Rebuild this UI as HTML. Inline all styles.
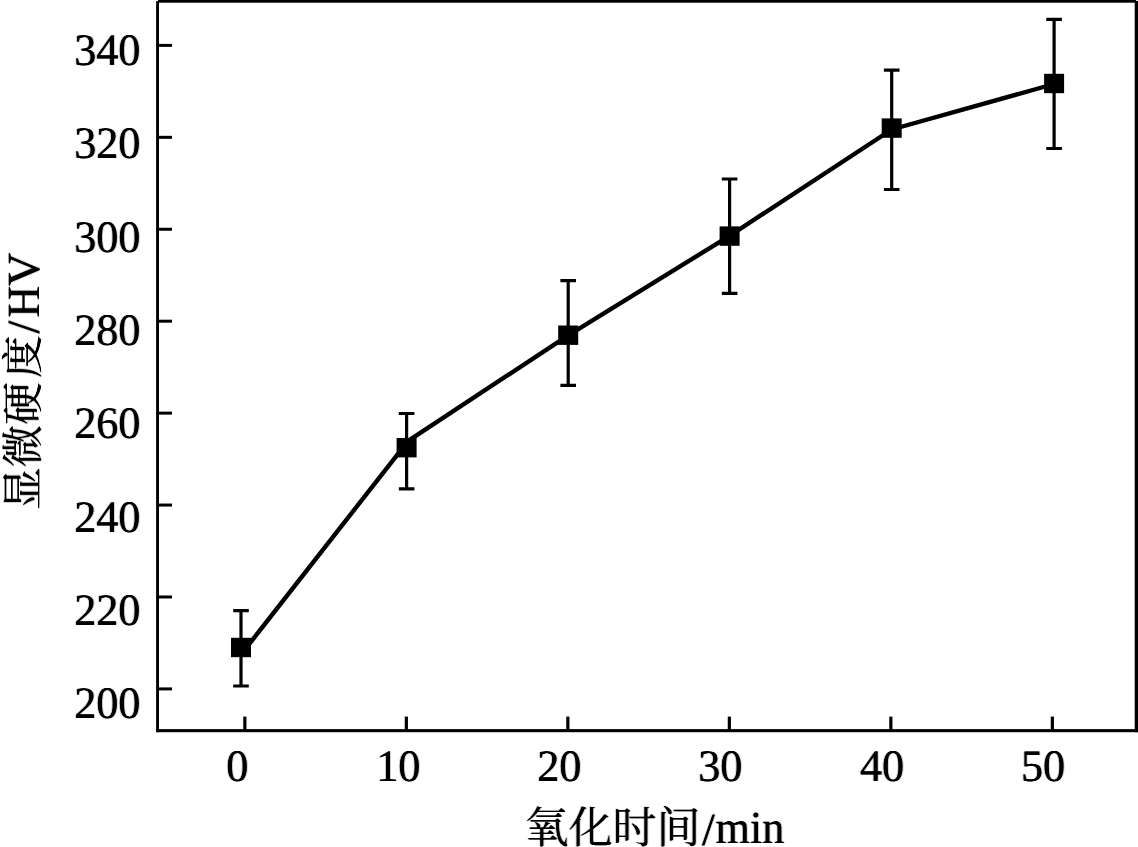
<!DOCTYPE html>
<html lang="zh-CN">
<head>
<meta charset="utf-8">
<title>氧化时间与显微硬度</title>
<style>
html,body{margin:0;padding:0;background:#fff;}
body{width:1138px;height:847px;overflow:hidden;position:relative;}
svg{position:absolute;left:0;top:0;display:block;}
text{font-family:"Liberation Serif","Noto Serif CJK SC",serif;font-size:45px;letter-spacing:-0.2px;text-rendering:geometricPrecision;fill:#000;stroke:#000;stroke-width:0.1px;filter:url(#emb);}
.cx{font-family:"Noto Serif CJK SC","Liberation Serif",serif;font-size:44px;font-weight:400;stroke-width:0;letter-spacing:0;}
.cy{font-family:"Noto Serif CJK SC","Liberation Serif",serif;font-size:42.6px;font-weight:400;stroke-width:0;letter-spacing:0;}
.lat{font-size:46px;letter-spacing:0;}
</style>
</head>
<body>
<svg width="1138" height="847" viewBox="0 0 1138 847">
<defs><filter id="emb" x="-10%" y="-10%" width="120%" height="120%" color-interpolation-filters="sRGB"><feConvolveMatrix order="3 1" kernelMatrix="0.22 1 0.22" divisor="1" edgeMode="none" preserveAlpha="false"/></filter></defs>
<rect x="0" y="0" width="1138" height="847" fill="#fff"/>

<g fill="#000" stroke="none">
<rect x="156.1" y="1.1" width="2.9" height="731.1"/>
<rect x="156.2" y="729.1" width="981.8" height="3.1"/>
<rect x="158" y="0" width="978" height="2.7"/>
<rect x="1134.7" y="0.9" width="3.3" height="731.3"/>
<rect x="158" y="43.90" width="14" height="3"/>
<rect x="158" y="135.83" width="14" height="3"/>
<rect x="158" y="227.76" width="14" height="3"/>
<rect x="158" y="319.69" width="14" height="3"/>
<rect x="158" y="411.62" width="14" height="3"/>
<rect x="158" y="503.55" width="14" height="3"/>
<rect x="158" y="595.48" width="14" height="3"/>
<rect x="158" y="687.41" width="14" height="3"/>
<rect x="243.25" y="716.6" width="3.2" height="14"/>
<rect x="404.75" y="716.6" width="3.2" height="14"/>
<rect x="566.25" y="716.6" width="3.2" height="14"/>
<rect x="727.75" y="716.6" width="3.2" height="14"/>
<rect x="889.25" y="716.6" width="3.2" height="14"/>
<rect x="1050.75" y="716.6" width="3.2" height="14"/>
</g>
<g stroke="#000" stroke-width="3.2" fill="none">
<path d="M241.0 610.6V686.0M233.2 610.6H248.8M233.2 686.0H248.8"/>
<path d="M406.6 413.5V488.8M398.8 413.5H414.4M398.8 488.8H414.4"/>
<path d="M568.2 280.6V385.4M560.4 280.6H576.0M560.4 385.4H576.0"/>
<path d="M729.6 179.0V293.3M721.8 179.0H737.4M721.8 293.3H737.4"/>
<path d="M891.7 70.1V189.5M883.9 70.1H899.5M883.9 189.5H899.5"/>
<path d="M1054.1 19.4V148.5M1046.3 19.4H1061.9M1046.3 148.5H1061.9"/>
</g>
<path d="M246.5 647.5 L408.2 440.8 L568.2 335.4 L729.6 235.8 L891.7 129.5 L1054.1 84.0" stroke="#000" stroke-width="4.4" fill="none" stroke-linejoin="round"/>
<g fill="#000">
<rect x="231.0" y="637.8" width="20" height="19.4"/>
<rect x="396.6" y="438.0" width="20" height="19.4"/>
<rect x="558.2" y="325.5" width="20" height="19.4"/>
<rect x="719.6" y="226.4" width="20" height="19.4"/>
<rect x="881.7" y="118.4" width="20" height="19.4"/>
<rect x="1044.1" y="73.8" width="20" height="19.4"/>
</g>
<g text-anchor="end">
<text transform="translate(140.2 65.0) scale(.985 1)">340</text>
<text transform="translate(140.2 158.3) scale(.985 1)">320</text>
<text transform="translate(140.2 251.6) scale(.985 1)">300</text>
<text transform="translate(140.2 344.9) scale(.985 1)">280</text>
<text transform="translate(140.2 438.2) scale(.985 1)">260</text>
<text transform="translate(140.2 531.5) scale(.985 1)">240</text>
<text transform="translate(140.2 624.8) scale(.985 1)">220</text>
<text transform="translate(140.2 718.1) scale(.985 1)">200</text>
</g>
<g text-anchor="end">
<text transform="translate(248.2 780.5) scale(.985 1)">0</text>
<text transform="translate(420.1 780.5) scale(.985 1)">10</text>
<text transform="translate(581.2 780.5) scale(.985 1)">20</text>
<text transform="translate(742.2 780.5) scale(.985 1)">30</text>
<text transform="translate(903.9 780.5) scale(.985 1)">40</text>
<text transform="translate(1064.9 780.5) scale(.985 1)">50</text>
</g>
<text y="842.7"><tspan class="cx" x="524.5" y="842.8">氧化时间</tspan><tspan class="lat" x="702" y="845.2">/</tspan><tspan class="lat" x="715.6" y="842.7" textLength="68.8" lengthAdjust="spacingAndGlyphs">min</tspan></text>
<text transform="translate(39 0) rotate(-90)"><tspan class="cy" x="-510 -467.4 -424.8 -377.9" y="-1.5">显微硬度</tspan><tspan class="lat" x="-333.6" y="0">/</tspan><tspan class="lat" x="-317.6" y="0" textLength="31.5" lengthAdjust="spacingAndGlyphs">H</tspan><tspan class="lat" x="-286" y="0">V</tspan></text>
</svg>
</body>
</html>
